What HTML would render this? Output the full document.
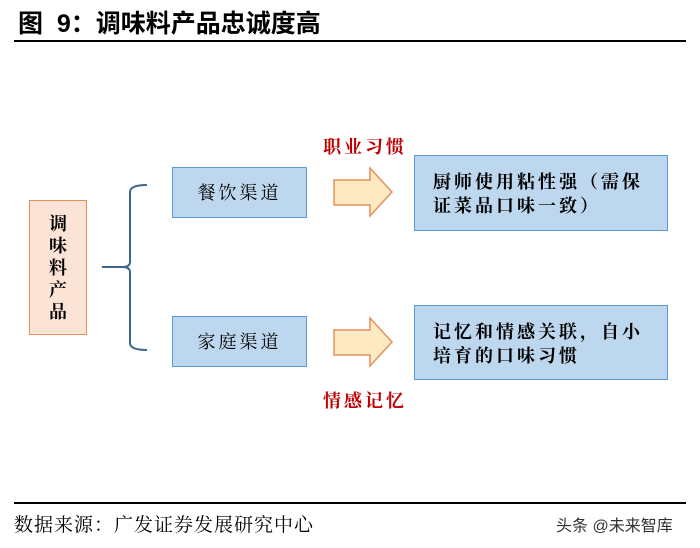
<!DOCTYPE html>
<html><head><meta charset="utf-8"><style>
body{margin:0;width:700px;height:548px;background:#fff;position:relative;overflow:hidden;font-family:"Liberation Serif","Noto Serif CJK SC","Noto Sans CJK SC",serif;}
.a{position:absolute;}
.t{left:18px;top:4px;font-size:25px;font-weight:bold;font-family:"Liberation Sans","Noto Sans CJK SC",sans-serif;color:#000;}
.blue{background:#bdd7ee;border:1.5px solid #5b9bd5;box-sizing:border-box;}
.red{color:#c00000;font-weight:bold;font-size:18px;letter-spacing:3px;}
</style></head><body>
<div class="a t">图&nbsp; 9：调味料产品忠诚度高</div>
<div class="a" style="left:14px;top:40px;width:672px;height:2px;background:#000"></div>

<div class="a" style="left:29px;top:200px;width:58px;height:135px;background:#fbe3d6;border:1.5px solid #e6905a;box-sizing:border-box;"></div>
<div class="a" style="left:29px;top:213px;width:58px;text-align:center;font-size:18px;line-height:22px;font-weight:bold;">调<br>味<br>料<br>产<br>品</div>

<svg class="a" style="left:0;top:0" width="700" height="548">
<path d="M147 185 Q130 185 130 192 L130 262 Q130 267 122 267 L102 267 M122 267 Q130 267 130 272 L130 343 Q130 350 147 350" fill="none" stroke="#3d6690" stroke-width="2"/>
<path d="M334 180 L370 180 L370 168 L392 192 L370 216 L370 205 L334 205 Z" fill="#fde9c2" stroke="#e6905a" stroke-width="1.5"/>
<path d="M334 330 L370 330 L370 318 L392 342 L370 366 L370 355 L334 355 Z" fill="#fde9c2" stroke="#e6905a" stroke-width="1.5"/>
</svg>

<div class="a blue" style="left:172px;top:167px;width:135px;height:51px;"></div>
<div class="a" style="left:172px;top:179px;width:135px;text-align:center;font-size:18px;letter-spacing:3px;">餐饮渠道</div>
<div class="a blue" style="left:172px;top:316px;width:135px;height:51px;"></div>
<div class="a" style="left:172px;top:328px;width:135px;text-align:center;font-size:18px;letter-spacing:3px;">家庭渠道</div>

<div class="a red" style="left:323px;top:133px;">职业习惯</div>
<div class="a red" style="left:323px;top:387px;">情感记忆</div>

<div class="a blue" style="left:414px;top:155px;width:254px;height:76px;"></div>
<div class="a" style="left:433px;top:170px;font-size:18px;line-height:24px;letter-spacing:3px;font-weight:bold;width:230px;">厨师使用粘性强（需保<br>证菜品口味一致）</div>
<div class="a blue" style="left:414px;top:305px;width:254px;height:75px;"></div>
<div class="a" style="left:433px;top:320px;font-size:18px;line-height:24px;letter-spacing:3px;font-weight:bold;width:230px;">记忆和情感关联，自小<br>培育的口味习惯</div>

<div class="a" style="left:14px;top:502px;width:672px;height:2px;background:#000"></div>
<div class="a" style="left:14px;top:510px;font-size:19px;letter-spacing:1px;">数据来源：广发证券发展研究中心</div>
<div class="a" style="left:556px;top:512px;font-size:16px;color:#333;font-family:'Liberation Sans','Noto Sans CJK SC',sans-serif;">头条 @未来智库</div>
</body></html>
